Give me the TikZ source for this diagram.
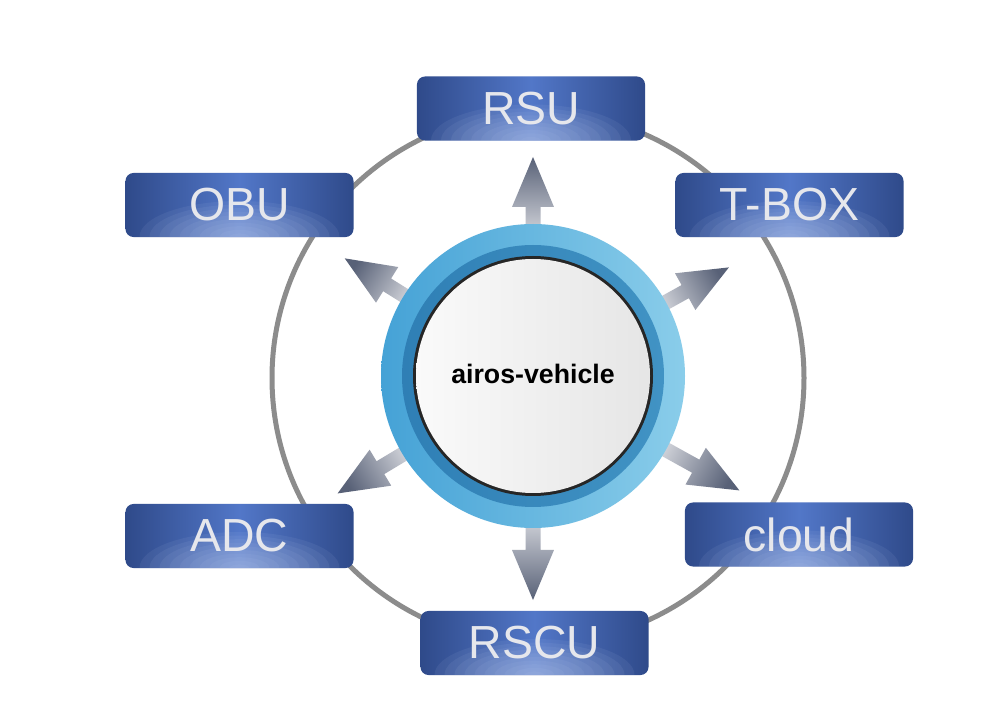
\documentclass[tikz,border=0pt]{standalone}
\usepackage{fontspec}
\setmainfont{Liberation Sans}

\definecolor{boxdark}{HTML}{2F4A8A}
\definecolor{boxmid}{HTML}{5277C8}
\definecolor{boxglow}{HTML}{C2D0F0}
\definecolor{boxtext}{HTML}{E6E7EC}
\definecolor{ringlight}{HTML}{8ACDEA}
\definecolor{ringmid}{HTML}{45A2D6}
\definecolor{ringdark}{HTML}{2F7FB5}
\definecolor{ringdarkr}{HTML}{4193C4}
\definecolor{arrowlight}{HTML}{D4D6DC}
\definecolor{arrowdark}{HTML}{586177}
\definecolor{orbit}{HTML}{8C8C8C}

\tikzset{
  unitbox/.style={rounded corners=0.2cm, minimum width=5.7cm, minimum height=1.6cm,
    inner sep=0pt, text=boxtext, font=\fontsize{33}{36}\selectfont,
    left color=boxdark, right color=boxdark, middle color=boxmid,
    path picture={\foreach \i in {1,...,10}
      \fill[boxglow, opacity=0.08] (path picture bounding box.south)
        ellipse ({\i*0.25cm} and {\i*0.09cm});}},
  hubtext/.style={font=\bfseries\fontsize{19}{22}\selectfont, text=black}
}

\begin{document}
\begin{tikzpicture}[x=0.025cm,y=0.025cm]

    \useasboundingbox (0,0) rectangle (1008,712);
    \fill[white] (0,0) rectangle (1008,712);

    % outer orbit
    \draw[orbit, line width=0.125cm] (538,334) circle (266);

    % arrows out of the hub
    \foreach \ang/\len in {90/219, 270/224, 148/222, 29/224, 211/228, -29/236} {
      \begin{scope}[shift={(533,336)}, rotate=\ang]
        \shade[top color=arrowdark, bottom color=arrowlight, shading angle=\ang-90]
          (140,-7.5) -- (\len-50,-7.5) -- (\len-50,-21) -- (\len,0)
          -- (\len-50,21) -- (\len-50,7.5) -- (140,7.5) -- cycle;
      \end{scope}
    }

    % hub rings
    \shade[left color=ringmid, right color=ringlight] (533,336) circle (152);
    \shade[left color=ringdark, right color=ringdarkr] (533,336) circle (131);
    \fill[black!85] (533,336) circle (120);
    \shade[left color=gray!4, right color=gray!20] (533,336) circle (117);

    \node[hubtext] (hub) at (533,338) {airos-vehicle};

    % units around
    \node[unitbox] (rsu)   at (531,603.5) {RSU};
    \node[unitbox] (obu)   at (239.5,507) {OBU};
    \node[unitbox] (tbox)  at (789.5,507) {T-BOX};
    \node[unitbox] (adc)   at (239.5,176) {ADC};
    \node[unitbox] (cloud) at (799,177.5) {cloud};
    \node[unitbox] (rscu)  at (534.5,69) {RSCU};

\end{tikzpicture}
\end{document}
